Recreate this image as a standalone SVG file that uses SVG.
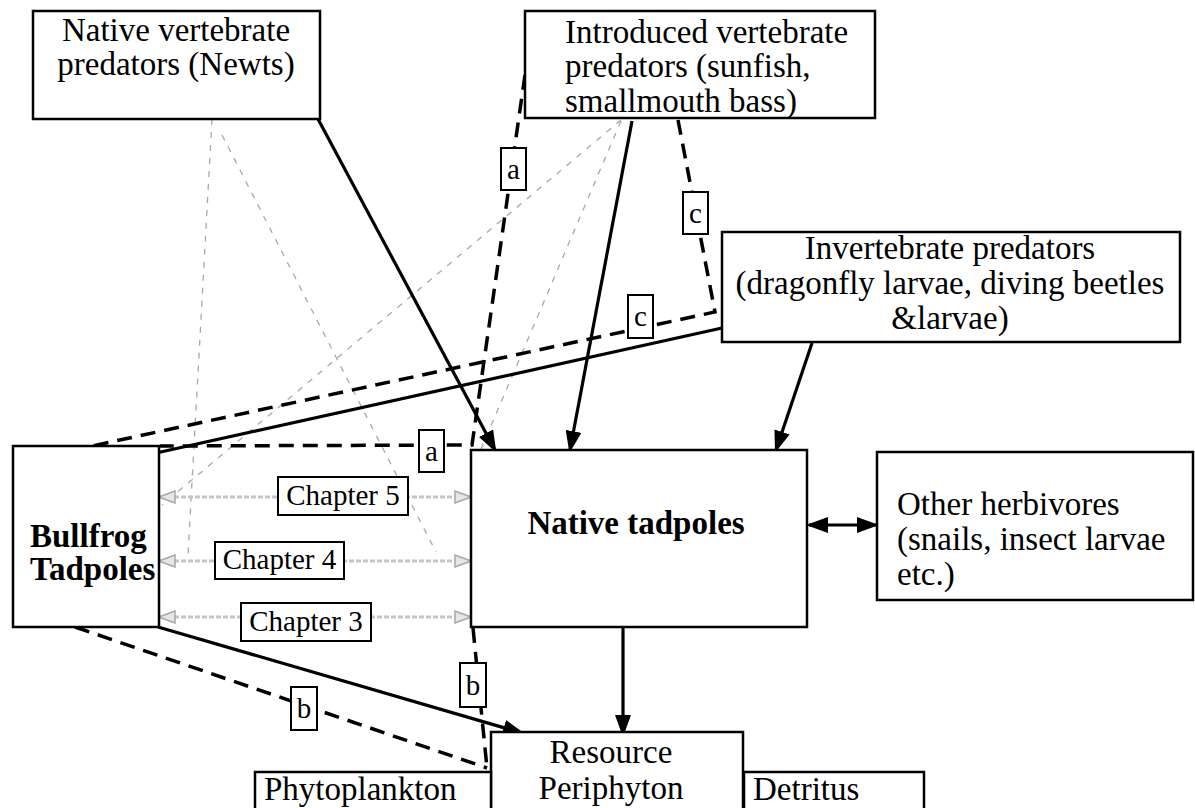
<svg xmlns="http://www.w3.org/2000/svg" width="1195" height="808" viewBox="0 0 1195 808">
<style>
.box{fill:#fff;stroke:#000;stroke-width:2.5}
.t{font-family:"Liberation Serif",serif;font-size:33px;fill:#000}
.b{font-weight:bold}
.c{text-anchor:middle}
.lt{font-family:"Liberation Serif",serif;font-size:29px;fill:#000;text-anchor:middle}
.lb{fill:#fff;stroke:#000;stroke-width:2}
.solid{stroke:#000;stroke-width:3.2;fill:none}
.dash{stroke:#000;stroke-width:3.5;fill:none;stroke-dasharray:15 9}
.gline{stroke:#a8a8a8;stroke-width:1.3;fill:none;stroke-dasharray:6 7}
.garrow{stroke:#c4c4c4;stroke-width:3;fill:none;stroke-dasharray:5 2}
</style>
<defs>
<marker id="ah" viewBox="0 0 22 16" refX="19" refY="8" markerWidth="22" markerHeight="16" markerUnits="userSpaceOnUse" orient="auto-start-reverse">
<path d="M0,0 L22,8 L0,16 z" fill="#000"/>
</marker>
<marker id="gh" viewBox="0 0 18 14" refX="16" refY="7" markerWidth="18" markerHeight="14" markerUnits="userSpaceOnUse" orient="auto-start-reverse">
<path d="M1,1 L17,7 L1,13 z" fill="#e6e6e6" stroke="#a8a8a8" stroke-width="1.5"/>
</marker>
</defs>
<rect width="1195" height="808" fill="#fff"/>

<g id="connectors">
<!-- gray dotted influence lines -->
<line class="gline" x1="212" y1="119" x2="188" y2="555"/>
<line class="gline" x1="222" y1="135" x2="436" y2="552"/>
<line class="gline" x1="621" y1="120" x2="162" y2="505"/>
<line class="gline" x1="621" y1="121" x2="473" y2="468"/>
<!-- gray chapter arrows -->
<line class="garrow" x1="160" y1="497" x2="470" y2="497" marker-start="url(#gh)" marker-end="url(#gh)"/>
<line class="garrow" x1="160" y1="561" x2="470" y2="561" marker-start="url(#gh)" marker-end="url(#gh)"/>
<line class="garrow" x1="160" y1="617" x2="470" y2="617" marker-start="url(#gh)" marker-end="url(#gh)"/>
<!-- solid arrows -->
<line class="solid" x1="318" y1="119" x2="495" y2="450" marker-end="url(#ah)"/>
<line class="solid" x1="632" y1="121" x2="570" y2="450" marker-end="url(#ah)"/>
<line class="solid" x1="812" y1="343" x2="776" y2="450" marker-end="url(#ah)"/>
<line class="solid" x1="722" y1="328" x2="138" y2="457" marker-end="url(#ah)"/>
<line class="solid" x1="158" y1="627" x2="522" y2="733" marker-end="url(#ah)"/>
<line class="solid" x1="623" y1="627" x2="623" y2="734" marker-end="url(#ah)"/>
<line class="solid" x1="809" y1="525" x2="876" y2="525" marker-start="url(#ah)" marker-end="url(#ah)"/>
<!-- dashed indirect paths -->
<polyline class="dash" points="525,75 472,445 160,446"/>
<polyline class="dash" points="678,120 715,312 92,446"/>
<line class="dash" x1="75" y1="627" x2="487" y2="768"/>
<line class="dash" x1="473" y1="628" x2="487" y2="768"/>
<!-- labels -->
<rect class="lb" x="501" y="148" width="25" height="42"/><text class="lt" x="513.5" y="179">a</text>
<rect class="lb" x="419" y="430" width="25" height="42"/><text class="lt" x="431.5" y="461">a</text>
<rect class="lb" x="683" y="192" width="25" height="42"/><text class="lt" x="695.5" y="223">c</text>
<rect class="lb" x="628" y="295" width="25" height="43"/><text class="lt" x="640.5" y="326">c</text>
<rect class="lb" x="291" y="687" width="26" height="43"/><text class="lt" x="304" y="718">b</text>
<rect class="lb" x="460" y="663" width="26" height="44"/><text class="lt" x="473" y="695">b</text>
<rect class="lb" x="278" y="477" width="130" height="38"/><text class="lt" x="343" y="505">Chapter 5</text>
<rect class="lb" x="215" y="542" width="129" height="37"/><text class="lt" x="279.5" y="569">Chapter 4</text>
<rect class="lb" x="241" y="603" width="130" height="38"/><text class="lt" x="306" y="631">Chapter 3</text>
</g>

<g id="newts">
<rect class="box" x="33" y="11" width="287" height="108"/>
<text class="t c" x="176" y="41">Native vertebrate</text>
<text class="t c" x="176" y="75">predators (Newts)</text>
</g>

<g id="introduced">
<rect class="box" x="525" y="11" width="350" height="107"/>
<text class="t" x="565" y="43">Introduced vertebrate</text>
<text class="t" x="565" y="77">predators (sunfish,</text>
<text class="t" x="565" y="112">smallmouth bass)</text>
</g>

<g id="invertebrate">
<rect class="box" x="722" y="232" width="458" height="110"/>
<text class="t c" x="950" y="259">Invertebrate predators</text>
<text class="t c" x="950" y="294">(dragonfly larvae, diving beetles</text>
<text class="t c" x="950" y="329">&amp;larvae)</text>
</g>

<g id="bullfrog">
<rect class="box" x="13" y="446" width="146" height="181"/>
<text class="t b" x="30" y="547">Bullfrog</text>
<text class="t b" x="30" y="580">Tadpoles</text>
</g>

<g id="native">
<rect class="box" x="471" y="450" width="336" height="177"/>
<text class="t b c" x="636" y="534">Native tadpoles</text>
</g>

<g id="herbivores">
<rect class="box" x="877" y="452" width="316" height="148"/>
<text class="t" x="897" y="515">Other herbivores</text>
<text class="t" x="897" y="550">(snails, insect larvae</text>
<text class="t" x="897" y="585">etc.)</text>
</g>

<g id="resource">
<rect class="box" x="491" y="732" width="252" height="90"/>
<text class="t c" x="611" y="763">Resource</text>
<text class="t c" x="611" y="799">Periphyton</text>
</g>

<g id="phytoplankton">
<rect class="box" x="255" y="772" width="236" height="50"/>
<text class="t" x="264" y="800">Phytoplankton</text>
</g>

<g id="detritus">
<rect class="box" x="744" y="772" width="180" height="50"/>
<text class="t" x="753" y="800">Detritus</text>
</g>
</svg>
